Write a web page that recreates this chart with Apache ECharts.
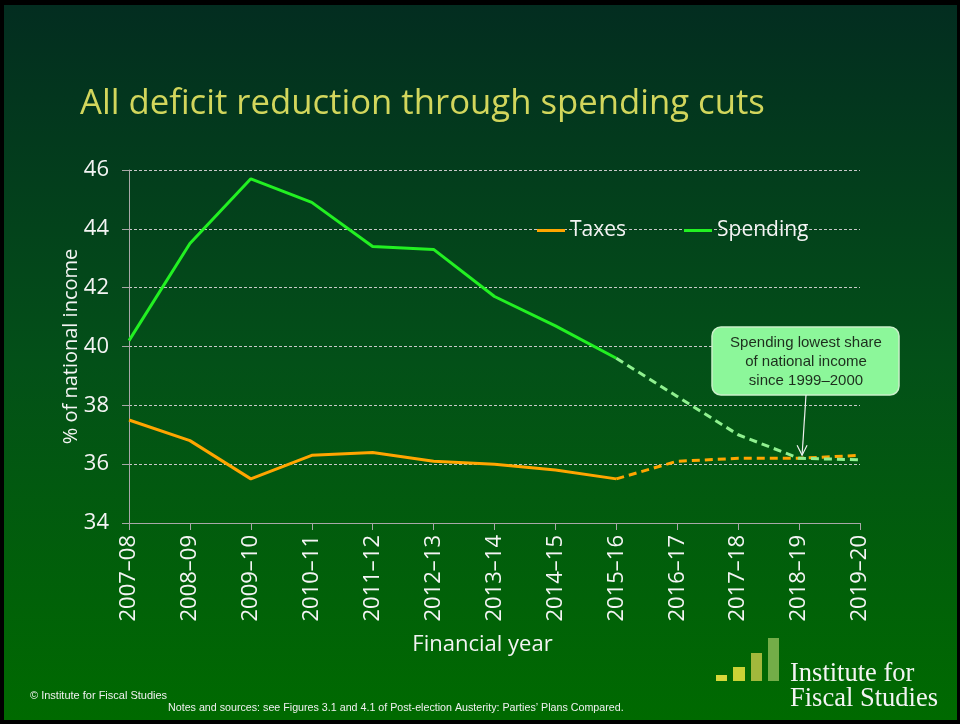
<!DOCTYPE html>
<html>
<head>
<meta charset="utf-8">
<script src="https://cdn.jsdelivr.net/npm/echarts@6/dist/echarts.min.js"></script>
<style>
  html, body { margin: 0; padding: 0; background: #000; }
  #chart { width: 960px; height: 724px; }
</style>
</head>
<body>
<div id="chart"></div>
<script>
// Financial years on the horizontal axis
const years = ['2007–08', '2008–09', '2009–10', '2010–11', '2011–12', '2012–13', '2013–14',
  '2014–15', '2015–16', '2016–17', '2017–18', '2018–19', '2019–20'];

// Outturns up to 2015–16 (% of national income)
const taxesOutturn = [37.5, 36.8, 35.5, 36.3, 36.4, 36.1, 36.0, 35.8, 35.5, null, null, null, null];
const spendingOutturn = [40.2, 43.5, 45.7, 44.9, 43.4, 43.3, 41.7, 40.7, 39.6, null, null, null, null];

// Plans from 2015–16 onwards
const taxesPlan = [null, null, null, null, null, null, null, null, 35.5, 36.1, 36.2, 36.2, 36.3];
const spendingPlan = [null, null, null, null, null, null, null, null, 39.6, 38.3, 37.0, 36.2, 36.15];

const yTicks = { min: 34, max: 46, step: 2 };

const chart = echarts.init(document.getElementById('chart'), null, { renderer: 'canvas' });

const FONT = "'Open Sans', 'Noto Sans', sans-serif";
const ORANGE = '#ffa500';
const GREEN = '#22f022';
const LIGHT_GREEN = '#8ff08f';

const option = {
  backgroundColor: '#000',
  animation: false,
  grid: { left: 129, right: 100, top: 170, bottom: 201, containLabel: false },
  legend: {
    data: ['Taxes', 'Spending'],
    left: 537,
    top: 220,
    padding: 0,
    icon: 'rect',
    itemWidth: 28,
    itemHeight: 3,
    itemGap: 58,
    textStyle: { color: '#f4f4f4', fontFamily: FONT, fontSize: 21 },
    backgroundColor: 'transparent'
  },
  xAxis: {
    type: 'category',
    data: years,
    boundaryGap: false,
    name: 'Financial year',
    nameLocation: 'middle',
    nameGap: 111,
    nameTextStyle: { color: '#f4f4f4', fontFamily: FONT, fontSize: 22, padding: [0, 24, 0, 0] },
    axisLine: { lineStyle: { color: '#a8a8a8', width: 1 } },
    axisTick: { show: true, length: 7, alignWithLabel: true, lineStyle: { color: '#a8a8a8' } },
    axisLabel: { rotate: 90, color: '#f4f4f4', fontFamily: FONT, fontSize: 22, margin: 12, interval: 0 },
    splitLine: { show: false }
  },
  yAxis: {
    type: 'value',
    min: yTicks.min,
    max: yTicks.max,
    interval: yTicks.step,
    name: '% of national income',
    nameLocation: 'middle',
    nameGap: 48,
    nameMoveOverlap: false,
    nameTextStyle: { color: '#f4f4f4', fontFamily: FONT, fontSize: 20 },
    axisLine: { show: true, lineStyle: { color: '#a8a8a8', width: 1 } },
    axisTick: { show: true, length: 7, lineStyle: { color: '#a8a8a8' } },
    axisLabel: { color: '#f4f4f4', fontFamily: FONT, fontSize: 22, margin: 20 },
    splitLine: { show: true, lineStyle: { color: '#c8c8c8', type: [3, 2], width: 1 } }
  },
  series: [
    {
      name: 'Taxes', type: 'line', data: taxesOutturn, symbol: 'none',
      lineStyle: { color: ORANGE, width: 3 }, itemStyle: { color: ORANGE }, z: 3
    },
    {
      name: 'Spending', type: 'line', data: spendingOutturn, symbol: 'none',
      lineStyle: { color: GREEN, width: 3 }, itemStyle: { color: GREEN }, z: 3
    },
    {
      name: 'Taxes plan', type: 'line', data: taxesPlan, symbol: 'none',
      lineStyle: { color: ORANGE, width: 3, type: [8, 5] }, itemStyle: { color: ORANGE }, z: 3
    },
    {
      name: 'Spending plan', type: 'line', data: spendingPlan, symbol: 'none',
      lineStyle: { color: LIGHT_GREEN, width: 3, type: [8, 5] }, itemStyle: { color: LIGHT_GREEN }, z: 3
    }
  ]
};

chart.setOption(option);

// Arrow tip sits just above the 2018–19 planned spending point
const tip = chart.convertToPixel({ xAxisIndex: 0, yAxisIndex: 0 }, [years[11], spendingPlan[11]]);
const tipX = tip[0] + 3;
const tipY = tip[1] - 3;

chart.setOption({
  graphic: [
    // slide background
    {
      type: 'rect', z: -10, silent: true,
      shape: { x: 4, y: 5, width: 953, height: 715 },
      style: {
        fill: new echarts.graphic.LinearGradient(0, 0, 0, 1, [
          { offset: 0, color: '#032d20' },
          { offset: 0.5, color: '#035018' },
          { offset: 1, color: '#006a00' }
        ])
      }
    },
    {
      type: 'text', left: 80, top: 87, z: 10,
      style: { text: 'All deficit reduction through spending cuts', fill: '#d2d65c', font: "34.7px 'Open Sans', sans-serif" }
    },
    // callout
    {
      type: 'rect', z: 10,
      shape: { x: 712, y: 327, width: 187, height: 68, r: 9 },
      style: { fill: '#8cf79a', stroke: '#c9efc9', lineWidth: 1.5 }
    },
    {
      type: 'text', z: 11, x: 806, y: 333,
      style: {
        text: 'Spending lowest share\nof national income\nsince 1999–2000',
        fill: '#1d2e1d', font: "15px 'Liberation Sans', Arial, sans-serif",
        align: 'center', lineHeight: 19
      }
    },
    {
      type: 'line', z: 11,
      shape: { x1: 806, y1: 395, x2: tipX, y2: tipY },
      style: { stroke: '#f0f0f0', lineWidth: 1.2 }
    },
    {
      type: 'polyline', z: 11,
      shape: { points: [[tipX - 5, tipY - 10], [tipX, tipY], [tipX + 5, tipY - 10]] },
      style: { stroke: '#f0f0f0', lineWidth: 1.2, fill: null }
    },
    // footer
    {
      type: 'text', left: 30, top: 690, z: 10,
      style: { text: '© Institute for Fiscal Studies', fill: '#f0f0f0', font: "11px 'Liberation Sans Narrow', 'Liberation Sans', sans-serif" }
    },
    {
      type: 'text', left: 168, top: 703, z: 10,
      style: { text: 'Notes and sources: see Figures 3.1 and 4.1 of Post-election Austerity: Parties\u2019 Plans Compared.', fill: '#f0f0f0', font: "10.7px 'Liberation Sans Narrow', 'Liberation Sans', sans-serif" }
    },
    // IFS logo
    { type: 'rect', z: 10, shape: { x: 716, y: 675, width: 11, height: 6 }, style: { fill: '#d6d83a' } },
    { type: 'rect', z: 10, shape: { x: 733, y: 667, width: 12, height: 14 }, style: { fill: '#c9d236' } },
    { type: 'rect', z: 10, shape: { x: 751, y: 653, width: 11, height: 28 }, style: { fill: '#a2b83c' } },
    { type: 'rect', z: 10, shape: { x: 768, y: 638, width: 11, height: 43 }, style: { fill: '#73ad48' } },
    {
      type: 'text', z: 10, x: 790, y: 688,
      style: { text: 'Institute for', fill: '#f4f4f4', font: "26.5px 'Liberation Serif', 'DejaVu Serif', serif", verticalAlign: 'bottom' }
    },
    {
      type: 'text', z: 10, x: 790, y: 713,
      style: { text: 'Fiscal Studies', fill: '#f4f4f4', font: "26.5px 'Liberation Serif', 'DejaVu Serif', serif", verticalAlign: 'bottom' }
    }
  ]
});
</script>
</body>
</html>
